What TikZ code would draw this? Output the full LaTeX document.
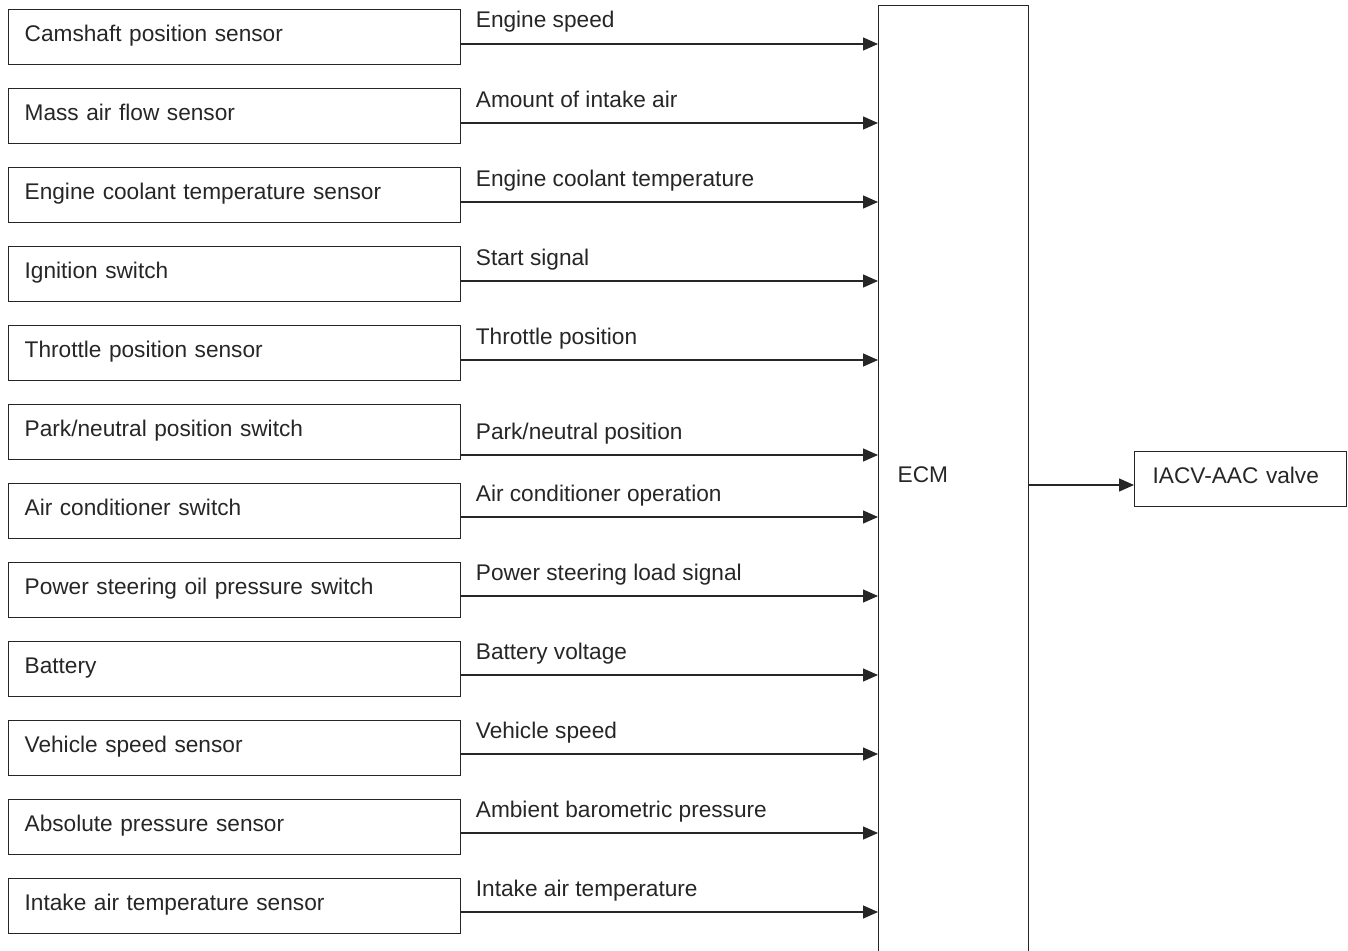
\documentclass[tikz,border=0pt]{standalone}
\usepackage{fontspec}
\setmainfont{Liberation Sans}
\usetikzlibrary{calc}
\usetikzlibrary{arrows.meta}

\begin{document}
\begin{tikzpicture}[x=0.02cm, y=-0.02cm, line width=0.75pt, color=black!85,
    font=\fontsize{12.9}{15}\selectfont,
    sensor/.style={draw, anchor=north west, minimum height=1.1cm, text width=8.4cm,
        inner xsep=0.32cm, align=left, text height=9pt, text depth=4.5pt},
    actuator/.style={sensor, text width=3.52cm, inner xsep=0.36cm},
    signal/.style={anchor=base west, inner sep=0pt},
    feed/.style={-{Triangle[length=3mm,width=2.6mm]}}]

        \useasboundingbox (0,0) rectangle (1348,950);

        % ECM runs off the bottom edge
        \node[draw, anchor=north west, minimum width=3cm, minimum height=19.3cm, inner sep=0pt] (ecm) at (878,5) {};
        \node[signal] (ecmtext) at (897,482) {ECM};

        % Input sensors and switches
        \node[sensor] (cam) at (8,9) {Camshaft position sensor};
        \node[sensor] (maf) at (8,88) {Mass air flow sensor};
        \node[sensor] (ect) at (8,167) {Engine coolant temperature sensor};
        \node[sensor] (ign) at (8,246) {Ignition switch};
        \node[sensor] (tps) at (8,325) {Throttle position sensor};
        \node[sensor] (pnp) at (8,404) {Park/neutral position switch};
        \node[sensor] (acs) at (8,483) {Air conditioner switch};
        \node[sensor] (pst) at (8,562) {Power steering oil pressure switch};
        \node[sensor] (bat) at (8,641) {Battery};
        \node[sensor] (vss) at (8,720) {Vehicle speed sensor};
        \node[sensor] (aps) at (8,799) {Absolute pressure sensor};
        \node[sensor] (iat) at (8,878) {Intake air temperature sensor};

        % Signal lines into the ECM
        \coordinate (c1) at ($(cam.north east)+(0,35)$);
        \coordinate (c2) at ($(maf.north east)+(0,35)$);
        \coordinate (c3) at ($(ect.north east)+(0,35)$);
        \coordinate (c4) at ($(ign.north east)+(0,35)$);
        \coordinate (c5) at ($(tps.north east)+(0,35)$);
        \coordinate (c6) at ($(pnp.north east)+(0,51)$);
        \coordinate (c7) at ($(acs.north east)+(0,34)$);
        \coordinate (c8) at ($(pst.north east)+(0,34)$);
        \coordinate (c9) at ($(bat.north east)+(0,34)$);
        \coordinate (c10) at ($(vss.north east)+(0,34)$);
        \coordinate (c11) at ($(aps.north east)+(0,34)$);
        \coordinate (c12) at ($(iat.north east)+(0,34)$);

        \draw[feed] (c1) -- (c1 -| ecm.west);
        \draw[feed] (c2) -- (c2 -| ecm.west);
        \draw[feed] (c3) -- (c3 -| ecm.west);
        \draw[feed] (c4) -- (c4 -| ecm.west);
        \draw[feed] (c5) -- (c5 -| ecm.west);
        \draw[feed] (c6) -- (c6 -| ecm.west);
        \draw[feed] (c7) -- (c7 -| ecm.west);
        \draw[feed] (c8) -- (c8 -| ecm.west);
        \draw[feed] (c9) -- (c9 -| ecm.west);
        \draw[feed] (c10) -- (c10 -| ecm.west);
        \draw[feed] (c11) -- (c11 -| ecm.west);
        \draw[feed] (c12) -- (c12 -| ecm.west);

        \node[signal] (l1) at ($(c1)+(14,-16)$) {Engine speed};
        \node[signal] (l2) at ($(c2)+(14,-16)$) {Amount of intake air};
        \node[signal] (l3) at ($(c3)+(14,-16)$) {Engine coolant temperature};
        \node[signal] (l4) at ($(c4)+(14,-16)$) {Start signal};
        \node[signal] (l5) at ($(c5)+(14,-16)$) {Throttle position};
        \node[signal] (l6) at ($(c6)+(14,-16)$) {Park/neutral position};
        \node[signal] (l7) at ($(c7)+(14,-16)$) {Air conditioner operation};
        \node[signal] (l8) at ($(c8)+(14,-16)$) {Power steering load signal};
        \node[signal] (l9) at ($(c9)+(14,-16)$) {Battery voltage};
        \node[signal] (l10) at ($(c10)+(14,-16)$) {Vehicle speed};
        \node[signal] (l11) at ($(c11)+(14,-16)$) {Ambient barometric pressure};
        \node[signal] (l12) at ($(c12)+(14,-16)$) {Intake air temperature};

        % Output to the valve
        \node[actuator] (iacv) at (1134,451) {IACV-AAC valve};
        \coordinate (q) at ($(iacv.north west)+(0,34)$);
        \draw[feed] (q -| ecm.east) -- (q);

\end{tikzpicture}
\end{document}
